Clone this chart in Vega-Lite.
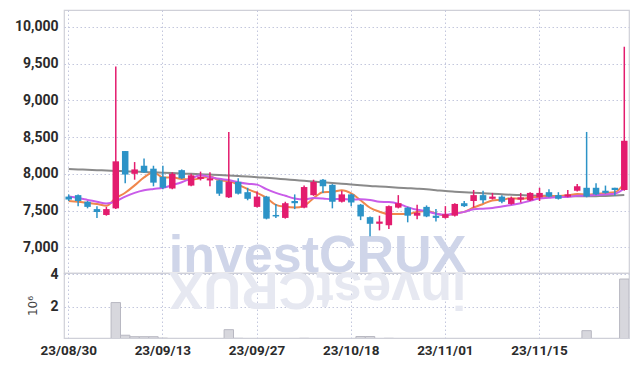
{
  "$schema": "https://vega.github.io/schema/vega-lite/v6.json",
  "padding": {"left": 13, "top": 9, "right": 0, "bottom": 0},
  "background": "white",
  "spacing": 0,
  "bounds": "flush",
  "config": {
    "view": {"stroke": "#cfd0d8", "strokeWidth": 1.2},
    "axis": {
      "gridColor": "#c3c7dd", "gridDash": [1.5, 2.5], "gridWidth": 1,
      "labelFont": "Roboto", "labelFontWeight": "bold", "labelColor": "#2b2b2b", "labelFontSize": 14,
      "domain": false, "ticks": false, "title": null
    }
  },
  "datasets": {
    "ohlc": [
      {"d":"23/08/30","o":7690,"h":7720,"l":7630,"c":7650,"v":60000,"m5":7630,"m10":7690,"m60":8065},
      {"d":"23/08/31","o":7710,"h":7720,"l":7560,"c":7630,"v":50000,"m5":7620,"m10":7670,"m60":8060},
      {"d":"23/09/01","o":7620,"h":7630,"l":7530,"c":7550,"v":40000,"m5":7605,"m10":7645,"m60":8055},
      {"d":"23/09/04","o":7520,"h":7560,"l":7400,"c":7480,"v":50000,"m5":7590,"m10":7620,"m60":8050},
      {"d":"23/09/05","o":7440,"h":7550,"l":7430,"c":7520,"v":40000,"m5":7565,"m10":7595,"m60":8045},
      {"d":"23/09/06","o":7530,"h":9460,"l":7520,"c":8170,"v":2270000,"m5":7670,"m10":7625,"m60":8040},
      {"d":"23/09/07","o":8310,"h":8310,"l":7870,"c":7990,"v":270000,"m5":7742,"m10":7690,"m60":8035},
      {"d":"23/09/08","o":8000,"h":8160,"l":7920,"c":8060,"v":180000,"m5":7843,"m10":7740,"m60":8030},
      {"d":"23/09/11","o":8110,"h":8210,"l":8010,"c":8020,"v":180000,"m5":7951,"m10":7775,"m60":8025},
      {"d":"23/09/12","o":8070,"h":8110,"l":7830,"c":7880,"v":180000,"m5":8023,"m10":7794,"m60":8020},
      {"d":"23/09/13","o":7960,"h":8110,"l":7790,"c":7810,"v":90000,"m5":7950,"m10":7810,"m60":8015},
      {"d":"23/09/14","o":7800,"h":8020,"l":7790,"c":8000,"v":70000,"m5":7953,"m10":7847,"m60":8010},
      {"d":"23/09/15","o":8050,"h":8060,"l":7930,"c":7940,"v":60000,"m5":7928,"m10":7886,"m60":8005},
      {"d":"23/09/18","o":7840,"h":8000,"l":7830,"c":7980,"v":60000,"m5":7922,"m10":7937,"m60":8000},
      {"d":"23/09/19","o":7930,"h":8030,"l":7910,"c":7960,"v":50000,"m5":7938,"m10":7981,"m60":7995},
      {"d":"23/09/20","o":7910,"h":8020,"l":7830,"c":7940,"v":50000,"m5":7965,"m10":7957,"m60":7990},
      {"d":"23/09/21","o":7910,"h":7920,"l":7700,"c":7730,"v":60000,"m5":7911,"m10":7932,"m60":7985},
      {"d":"23/09/22","o":7680,"h":8570,"l":7670,"c":7890,"v":610000,"m5":7901,"m10":7915,"m60":7978},
      {"d":"23/09/25","o":7890,"h":7940,"l":7720,"c":7730,"v":80000,"m5":7851,"m10":7886,"m60":7970},
      {"d":"23/09/26","o":7750,"h":7810,"l":7640,"c":7660,"v":50000,"m5":7791,"m10":7865,"m60":7962},
      {"d":"23/09/27","o":7550,"h":7760,"l":7540,"c":7690,"v":50000,"m5":7741,"m10":7853,"m60":7955},
      {"d":"23/10/04","o":7690,"h":7700,"l":7380,"c":7390,"v":70000,"m5":7673,"m10":7792,"m60":7945},
      {"d":"23/10/05","o":7440,"h":7590,"l":7400,"c":7420,"v":50000,"m5":7578,"m10":7740,"m60":7935},
      {"d":"23/10/06","o":7400,"h":7620,"l":7390,"c":7600,"v":60000,"m5":7551,"m10":7701,"m60":7925},
      {"d":"23/10/10","o":7630,"h":7720,"l":7520,"c":7600,"v":50000,"m5":7540,"m10":7665,"m60":7915},
      {"d":"23/10/11","o":7540,"h":7840,"l":7530,"c":7820,"v":80000,"m5":7566,"m10":7653,"m60":7905},
      {"d":"23/10/12","o":7710,"h":7920,"l":7700,"c":7890,"v":70000,"m5":7667,"m10":7670,"m60":7895},
      {"d":"23/10/13","o":7920,"h":7930,"l":7740,"c":7830,"v":50000,"m5":7750,"m10":7664,"m60":7885},
      {"d":"23/10/16","o":7850,"h":7860,"l":7530,"c":7620,"v":60000,"m5":7754,"m10":7653,"m60":7875},
      {"d":"23/10/17","o":7620,"h":7770,"l":7610,"c":7720,"v":40000,"m5":7778,"m10":7659,"m60":7865},
      {"d":"23/10/18","o":7720,"h":7730,"l":7560,"c":7610,"v":50000,"m5":7735,"m10":7651,"m60":7855},
      {"d":"23/10/19","o":7580,"h":7590,"l":7370,"c":7420,"v":190000,"m5":7640,"m10":7653,"m60":7845},
      {"d":"23/10/20","o":7410,"h":7420,"l":7150,"c":7320,"v":190000,"m5":7538,"m10":7644,"m60":7835},
      {"d":"23/10/23","o":7320,"h":7430,"l":7230,"c":7350,"v":70000,"m5":7484,"m10":7619,"m60":7828},
      {"d":"23/10/24","o":7300,"h":7570,"l":7250,"c":7560,"v":80000,"m5":7452,"m10":7615,"m60":7820},
      {"d":"23/10/25","o":7540,"h":7710,"l":7530,"c":7600,"v":60000,"m5":7452,"m10":7593,"m60":7812},
      {"d":"23/10/26","o":7540,"h":7550,"l":7340,"c":7430,"v":50000,"m5":7453,"m10":7547,"m60":7805},
      {"d":"23/10/27","o":7430,"h":7580,"l":7380,"c":7470,"v":40000,"m5":7482,"m10":7510,"m60":7798},
      {"d":"23/10/30","o":7550,"h":7570,"l":7410,"c":7420,"v":40000,"m5":7495,"m10":7490,"m60":7790},
      {"d":"23/10/31","o":7430,"h":7520,"l":7350,"c":7400,"v":40000,"m5":7462,"m10":7457,"m60":7778},
      {"d":"23/11/01","o":7400,"h":7560,"l":7390,"c":7450,"v":50000,"m5":7432,"m10":7442,"m60":7765},
      {"d":"23/11/02","o":7430,"h":7600,"l":7420,"c":7590,"v":60000,"m5":7463,"m10":7458,"m60":7757},
      {"d":"23/11/03","o":7600,"h":7630,"l":7550,"c":7560,"v":40000,"m5":7482,"m10":7482,"m60":7750},
      {"d":"23/11/06","o":7630,"h":7780,"l":7540,"c":7710,"v":60000,"m5":7541,"m10":7518,"m60":7742},
      {"d":"23/11/07","o":7710,"h":7770,"l":7600,"c":7640,"v":50000,"m5":7590,"m10":7526,"m60":7735},
      {"d":"23/11/08","o":7660,"h":7740,"l":7650,"c":7690,"v":40000,"m5":7638,"m10":7535,"m60":7728},
      {"d":"23/11/09","o":7690,"h":7710,"l":7600,"c":7620,"v":40000,"m5":7646,"m10":7555,"m60":7722},
      {"d":"23/11/10","o":7590,"h":7690,"l":7580,"c":7670,"v":40000,"m5":7667,"m10":7575,"m60":7716},
      {"d":"23/11/13","o":7650,"h":7740,"l":7610,"c":7680,"v":40000,"m5":7659,"m10":7600,"m60":7711},
      {"d":"23/11/14","o":7640,"h":7750,"l":7630,"c":7740,"v":50000,"m5":7677,"m10":7634,"m60":7706},
      {"d":"23/11/15","o":7680,"h":7810,"l":7630,"c":7740,"v":50000,"m5":7687,"m10":7663,"m60":7702},
      {"d":"23/11/16","o":7750,"h":7790,"l":7680,"c":7690,"v":40000,"m5":7700,"m10":7673,"m60":7699},
      {"d":"23/11/17","o":7710,"h":7750,"l":7650,"c":7660,"v":40000,"m5":7699,"m10":7683,"m60":7697},
      {"d":"23/11/20","o":7690,"h":7780,"l":7680,"c":7720,"v":40000,"m5":7708,"m10":7684,"m60":7695},
      {"d":"23/11/21","o":7770,"h":7860,"l":7760,"c":7830,"v":60000,"m5":7727,"m10":7702,"m60":7694},
      {"d":"23/11/22","o":7810,"h":8570,"l":7680,"c":7690,"v":550000,"m5":7717,"m10":7702,"m60":7694},
      {"d":"23/11/23","o":7810,"h":7870,"l":7710,"c":7720,"v":70000,"m5":7724,"m10":7712,"m60":7696},
      {"d":"23/11/24","o":7770,"h":7840,"l":7730,"c":7740,"v":40000,"m5":7738,"m10":7719,"m60":7699},
      {"d":"23/11/27","o":7810,"h":7810,"l":7700,"c":7780,"v":50000,"m5":7749,"m10":7729,"m60":7704},
      {"d":"23/11/28","o":7780,"h":9730,"l":7770,"c":8450,"v":3710000,"m5":7872,"m10":7800,"m60":7711}
    ]
  },
  "vconcat": [
    {
      "width": 565,
      "height": 263,
      "data": {"name": "ohlc"},
      "encoding": {
        "x": {
          "field": "d", "type": "ordinal", "sort": null,
          "scale": {"paddingInner": 0, "paddingOuter": 0},
          "axis": {"labels": false, "grid": true, "values": ["23/08/30","23/09/13","23/09/27","23/10/18","23/11/01","23/11/15"]}
        }
      },
      "layer": [
        {
          "mark": {"type": "text", "font": "Liberation Sans", "fontWeight": "bold", "fontSize": 52, "color": "#cfd5e9", "align": "center", "baseline": "alphabetic", "dx": 4},
          "encoding": {
            "y": {
              "datum": 6670, "type": "quantitative",
              "scale": {"domain": [6650, 10230], "zero": false, "nice": false},
              "axis": {"values": [7000,7500,8000,8500,9000,9500,10000], "labelExpr": "format(datum.value, ',')", "grid": true, "labelPadding": 6}
            },
            "text": {"condition": {"test": "datum.d === '23/10/12'", "value": "investCRUX"}, "value": ""}
          }
        },
        {
          "mark": {"type": "line", "color": "#8a8a8a", "strokeWidth": 2, "interpolate": "monotone"},
          "encoding": {"y": {"field": "m60", "type": "quantitative"}}
        },
        {
          "mark": {"type": "line", "color": "#f0874c", "strokeWidth": 2, "interpolate": "monotone"},
          "encoding": {"y": {"field": "m5", "type": "quantitative"}}
        },
        {
          "mark": {"type": "line", "color": "#c95ce9", "strokeWidth": 2, "interpolate": "monotone"},
          "encoding": {"y": {"field": "m10", "type": "quantitative"}}
        },
        {
          "mark": {"type": "rule", "strokeWidth": 1.5},
          "encoding": {
            "y": {"field": "l", "type": "quantitative"},
            "y2": {"field": "h"},
            "color": {"condition": {"test": "datum.c >= datum.o", "value": "#e31c6e"}, "value": "#2c93c7"}
          }
        },
        {
          "mark": {"type": "bar", "size": 6.5},
          "encoding": {
            "y": {"field": "o", "type": "quantitative"},
            "y2": {"field": "c"},
            "color": {"condition": {"test": "datum.c >= datum.o", "value": "#e31c6e"}, "value": "#2c93c7"}
          }
        }
      ]
    },
    {
      "width": 565,
      "height": 65,
      "data": {"name": "ohlc"},
      "encoding": {
        "x": {
          "field": "d", "type": "ordinal", "sort": null,
          "scale": {"paddingInner": 0, "paddingOuter": 0},
          "axis": {"grid": true, "values": ["23/08/30","23/09/13","23/09/27","23/10/18","23/11/01","23/11/15"], "labelAngle": 0, "labelPadding": 5, "labelFontSize": 13.5}
        }
      },
      "layer": [
        {
          "mark": {"type": "text", "font": "Liberation Sans", "fontWeight": "bold", "fontSize": 52, "color": "#e6e8f1", "align": "center", "baseline": "alphabetic", "angle": 180, "dx": -4, "clip": true},
          "encoding": {
            "y": {
              "datum": 4080000, "type": "quantitative",
              "scale": {"domain": [100000, 4080000], "zero": false, "nice": false},
              "axis": {"values": [2000000, 4000000], "labelExpr": "format(datum.value / 1000000, 'd')", "grid": true, "labelPadding": 6,
                       "title": "10⁶", "titleFont": "DejaVu Sans", "titleFontWeight": "normal", "titleFontSize": 12, "titleColor": "#444", "titlePadding": 10}
            },
            "text": {"condition": {"test": "datum.d === '23/10/12'", "value": "investCRUX"}, "value": ""}
          }
        },
        {
          "mark": {"type": "bar", "color": "#d7d7dd", "stroke": "#b8b8c2", "strokeWidth": 1, "clip": true},
          "encoding": {"y": {"field": "v", "type": "quantitative"}}
        }
      ]
    }
  ]
}
